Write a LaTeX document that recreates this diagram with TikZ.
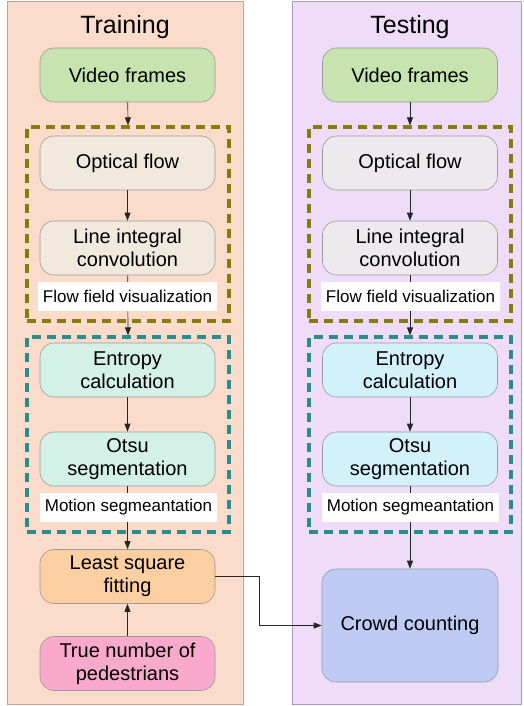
\documentclass[tikz,border=0pt]{standalone}
\usepackage{fontspec}
\setmainfont{Liberation Sans}
\usetikzlibrary{arrows.meta}
\definecolor{lpanel}{HTML}{FBDCCB}
\definecolor{lpanelb}{HTML}{BFA595}
\definecolor{rpanel}{HTML}{EEDCF9}
\definecolor{rpanelb}{HTML}{AC9CBC}
\definecolor{cgreen}{HTML}{C7E3B0}
\definecolor{cbeige}{HTML}{F1E8DE}
\definecolor{cgrey}{HTML}{EEE9EC}
\definecolor{cmint}{HTML}{D3F1E6}
\definecolor{ccyan}{HTML}{D3F1FB}
\definecolor{corange}{HTML}{FCCFA2}
\definecolor{cpink}{HTML}{F9A9CC}
\definecolor{cblue}{HTML}{BECBF5}
\definecolor{olive}{HTML}{857B0F}
\definecolor{teal2}{HTML}{2A8C8C}
\definecolor{nodeb}{HTML}{9A9A9A}
\tikzset{
  panel/.style={line width=0.8pt},
  title/.style={font=\fontsize{25}{28}\selectfont},
  stepbox/.style={draw=nodeb, line width=0.6pt, rounded corners=14pt,
    minimum width=175pt, minimum height=54pt, align=center, inner sep=0pt,
    font=\fontsize{20}{23}\selectfont},
  groupbox/.style={draw, line width=3.2pt, dash pattern=on 9pt off 6pt,
    minimum width=202pt, inner sep=0pt},
  tag/.style={fill=white, inner sep=0pt, minimum height=29pt,
    font=\fontsize{17}{20}\selectfont},
  link/.style={draw=black!85, line width=0.7pt, -{Triangle[length=8pt,width=6pt]}}
}
\begin{document}
\begin{tikzpicture}[x=1pt,y=-1pt]
\useasboundingbox (0,0) rectangle (523,706);
% panels
\draw[panel, fill=lpanel, draw=lpanelb] (7,1) rectangle (243,704);
\draw[panel, fill=rpanel, draw=rpanelb] (292,1) rectangle (521,704);
\node[title] (ttrain) at (125,27) {Training};
\node[title] (ttest) at (410,27) {Testing};
% group boxes
\node[groupbox, draw=olive, minimum height=194pt] (gl1) at (128,224) {};
\node[groupbox, draw=teal2, minimum height=195pt] (gl2) at (128,434.5) {};
\node[groupbox, draw=olive, minimum height=194pt] (gr1) at (410,224) {};
\node[groupbox, draw=teal2, minimum height=195pt] (gr2) at (410,434.5) {};
% left nodes
\node[stepbox, fill=cgreen] (lvf) at (127.5,75) {Video frames};
\node[stepbox, fill=cbeige] (lof) at (127.5,163) {Optical flow};
\node[stepbox, fill=cbeige] (llic) at (127.5,248) {Line integral\\convolution};
\node[stepbox, fill=cmint] (lent) at (127.5,370) {Entropy\\calculation};
\node[stepbox, fill=cmint] (lots) at (127.5,459) {Otsu\\segmentation};
\node[stepbox, fill=corange] (lls) at (127.5,576.5) {Least square\\fitting};
\node[stepbox, fill=cpink] (ltn) at (127.5,663.5) {True number of\\pedestrians};
% right nodes
\node[stepbox, fill=cgreen] (rvf) at (410,75) {Video frames};
\node[stepbox, fill=cgrey] (rof) at (410,163) {Optical flow};
\node[stepbox, fill=cgrey] (rlic) at (410,248) {Line integral\\convolution};
\node[stepbox, fill=ccyan] (rent) at (410,370) {Entropy\\calculation};
\node[stepbox, fill=ccyan] (rots) at (410,459) {Otsu\\segmentation};
\node[stepbox, fill=cblue, minimum width=176pt, minimum height=113pt] (rcc) at (410,625.5) {Crowd counting};
% connectors
\draw[link] (lvf) -- (gl1.north);
\draw[link] (lof) -- (llic);
\draw[link] (llic) -- (gl2.north);
\draw[link] (lent) -- (lots);
\draw[link] (lots) -- (lls);
\draw[link] (ltn) -- (lls);
\draw[link] (rvf) -- (gr1.north);
\draw[link] (rof) -- (rlic);
\draw[link] (rlic) -- (gr2.north);
\draw[link] (rent) -- (rots);
\draw[link] (rots) -- (rcc);
\coordinate (bend) at (259,576.5);
\draw[link] (lls.east) -- (bend) |- (rcc.west);
% group labels
\node[tag, minimum width=179pt] (lffv) at (127.5,296) {Flow field visualization};
\node[tag, minimum width=177pt] (lms) at (128.5,507.5) {Motion segmeantation};
\node[tag, minimum width=179pt] (rffv) at (410.5,296) {Flow field visualization};
\node[tag, minimum width=177pt] (rms) at (410.5,507.5) {Motion segmeantation};
\end{tikzpicture}
\end{document}
